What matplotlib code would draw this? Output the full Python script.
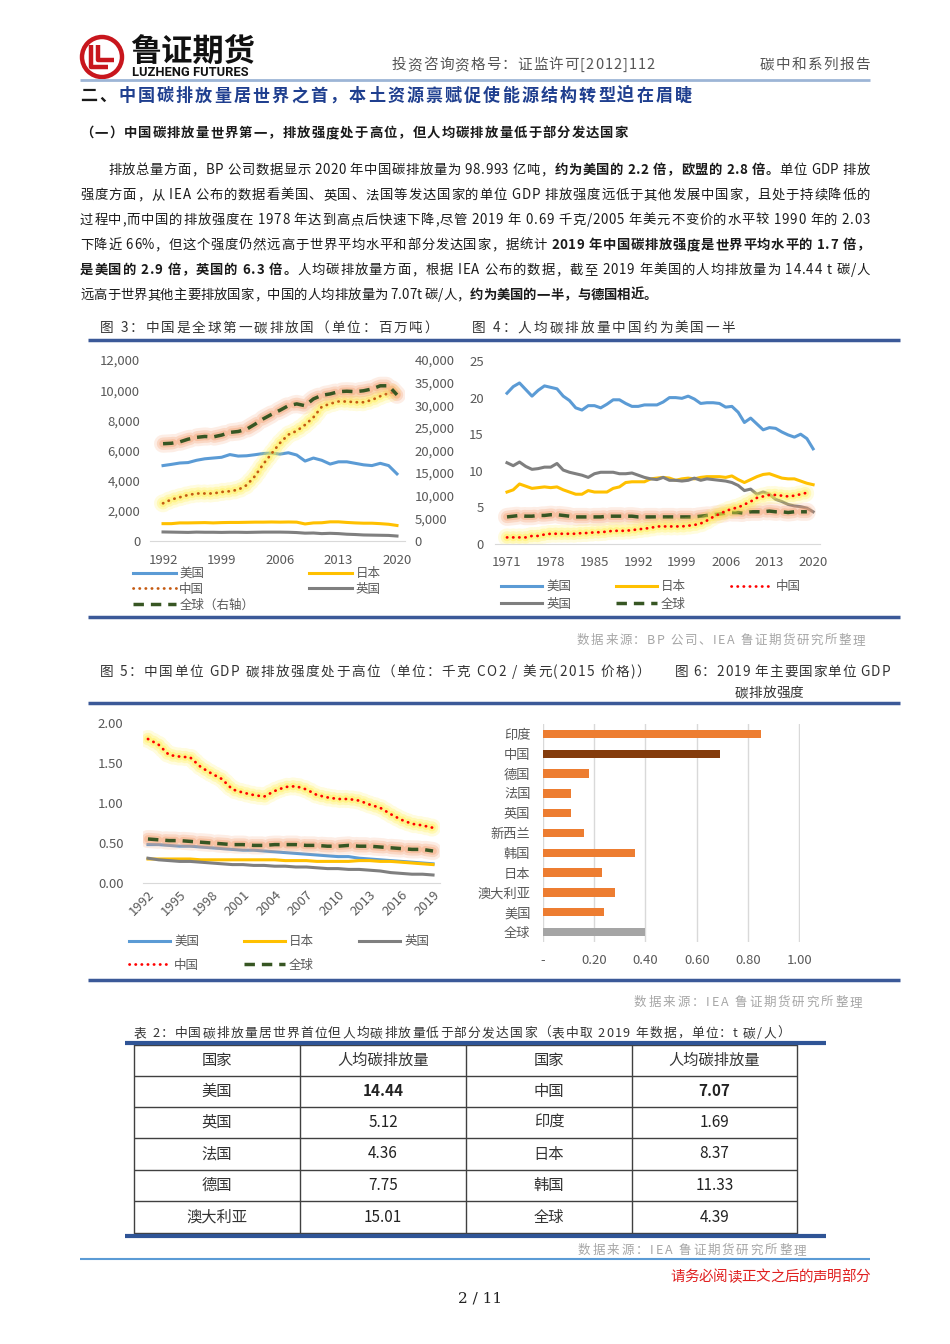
import matplotlib
matplotlib.use('Agg')
import matplotlib.pyplot as plt
import matplotlib.patheffects as pe
from matplotlib.font_manager import FontProperties
from matplotlib.lines import Line2D
from matplotlib.patches import Circle
from matplotlib.ticker import FuncFormatter

CJK = ['Noto Sans CJK SC', 'DejaVu Sans']
plt.rcParams['font.family'] = CJK
plt.rcParams['axes.unicode_minus'] = False

#%% 图3 碳排放量（百万吨），全球为右轴
years_co2 = list(range(1992, 2021))
co2_us = [5000, 5080, 5170, 5200, 5350, 5450, 5500, 5550, 5730, 5630, 5650, 5720, 5800, 5830,
          5760, 5850, 5700, 5300, 5500, 5350, 5100, 5250, 5250, 5150, 5050, 5000, 5150, 5000, 4450]
co2_china = [2500, 2750, 2900, 3050, 3150, 3150, 3150, 3250, 3300, 3400, 3700, 4300, 5100, 5800,
             6500, 7050, 7300, 7700, 8200, 8900, 9100, 9250, 9250, 9200, 9200, 9350, 9600, 9800, 9900]
co2_japan = [1150, 1150, 1200, 1200, 1210, 1220, 1200, 1220, 1230, 1230, 1240, 1250, 1250, 1260,
             1250, 1260, 1250, 1130, 1200, 1210, 1270, 1270, 1230, 1200, 1180, 1180, 1150, 1110, 1030]
co2_uk = [600, 590, 580, 570, 590, 580, 580, 570, 580, 580, 570, 580, 590, 590,
          590, 580, 560, 520, 530, 490, 510, 490, 450, 430, 400, 390, 380, 370, 330]
co2_world = [21500, 21600, 21900, 22500, 22900, 23100, 23000, 23400, 24000, 24200, 24700, 25800, 27000, 28000,
             28900, 29900, 30300, 29900, 31400, 32200, 32500, 33000, 33100, 33000, 33200, 33600, 34300, 34300, 32300]

#%% 图4 人均碳排放量（t）
years_pc = list(range(1971, 2021))
pc_us = [20.6, 21.5, 22.0, 21.1, 20.2, 21.0, 21.6, 21.4, 21.2, 20.2, 19.6, 18.6, 18.3, 18.9, 18.9, 18.6, 19.1,
         19.7, 19.7, 19.2, 18.8, 18.8, 19.0, 19.0, 19.0, 19.4, 20.0, 20.0, 19.9, 20.2, 19.8, 19.2, 19.3, 19.3,
         19.2, 18.7, 18.8, 18.0, 16.6, 17.2, 16.4, 15.6, 15.9, 15.8, 15.3, 14.9, 14.6, 15.0, 14.4, 13.0]
pc_uk = [11.1, 10.7, 11.2, 10.6, 10.2, 10.3, 10.5, 10.5, 11.0, 10.1, 9.8, 9.6, 9.4, 9.1, 9.6, 9.8, 9.8,
         9.8, 9.6, 9.6, 9.7, 9.4, 9.1, 8.9, 8.8, 9.1, 8.7, 8.7, 8.6, 8.7, 9.0, 8.7, 8.9, 8.8,
         8.7, 8.6, 8.4, 8.0, 7.3, 7.5, 6.8, 7.1, 6.8, 6.1, 5.8, 5.4, 5.2, 5.1, 4.9, 4.4]
pc_japan = [7.1, 7.4, 8.2, 7.9, 7.6, 7.7, 7.8, 7.7, 7.8, 7.4, 7.1, 6.8, 6.8, 7.3, 7.1, 7.1, 7.1,
            7.6, 7.8, 8.4, 8.5, 8.5, 8.5, 8.9, 9.0, 9.1, 9.0, 8.7, 8.9, 9.0, 8.9, 9.1, 9.2, 9.2,
            9.2, 9.1, 9.3, 8.8, 8.4, 8.8, 9.2, 9.5, 9.6, 9.3, 9.0, 8.9, 8.9, 8.6, 8.3, 8.1]
pc_china = [0.9, 0.9, 0.9, 0.9, 1.1, 1.1, 1.3, 1.4, 1.4, 1.4, 1.4, 1.4, 1.5, 1.5, 1.6, 1.6, 1.7,
            1.8, 1.8, 1.8, 1.9, 2.0, 2.1, 2.2, 2.4, 2.4, 2.4, 2.4, 2.4, 2.5, 2.6, 2.8, 3.2, 3.7,
            4.1, 4.5, 4.8, 5.0, 5.4, 5.8, 6.3, 6.5, 6.7, 6.7, 6.6, 6.5, 6.6, 6.8, 7.0, float('nan')]
pc_world = [3.7, 3.8, 3.9, 3.8, 3.8, 3.9, 3.9, 4.0, 4.0, 3.9, 3.8, 3.7, 3.7, 3.7, 3.7, 3.7, 3.8,
            3.8, 3.8, 3.8, 3.8, 3.7, 3.7, 3.7, 3.7, 3.7, 3.7, 3.7, 3.7, 3.7, 3.7, 3.8, 3.9, 4.0,
            4.1, 4.2, 4.3, 4.3, 4.2, 4.4, 4.4, 4.4, 4.5, 4.4, 4.4, 4.3, 4.4, 4.4, 4.4, float('nan')]

#%% 图5 单位GDP碳排放强度（千克CO2/美元）
years_int = list(range(1992, 2020))
int_china = [1.80, 1.73, 1.60, 1.58, 1.57, 1.45, 1.37, 1.30, 1.17, 1.13, 1.10, 1.08, 1.15, 1.20,
             1.21, 1.17, 1.10, 1.07, 1.05, 1.05, 1.03, 0.98, 0.94, 0.86, 0.79, 0.74, 0.72, 0.69]
int_world = [0.55, 0.54, 0.53, 0.53, 0.52, 0.51, 0.50, 0.49, 0.48, 0.48, 0.47, 0.47, 0.48, 0.48,
             0.48, 0.47, 0.47, 0.46, 0.46, 0.47, 0.46, 0.46, 0.45, 0.44, 0.43, 0.42, 0.42, 0.40]
int_us = [0.48, 0.48, 0.47, 0.46, 0.46, 0.45, 0.44, 0.43, 0.42, 0.41, 0.41, 0.40, 0.39, 0.38,
          0.37, 0.36, 0.35, 0.34, 0.33, 0.33, 0.31, 0.30, 0.29, 0.28, 0.27, 0.26, 0.25, 0.24]
int_japan = [0.30, 0.30, 0.30, 0.30, 0.30, 0.29, 0.29, 0.29, 0.29, 0.29, 0.29, 0.29, 0.29, 0.28,
             0.28, 0.28, 0.27, 0.27, 0.27, 0.27, 0.28, 0.28, 0.27, 0.27, 0.26, 0.25, 0.24, 0.23]
int_uk = [0.31, 0.29, 0.28, 0.27, 0.27, 0.26, 0.25, 0.24, 0.23, 0.23, 0.22, 0.22, 0.21, 0.21,
          0.20, 0.20, 0.19, 0.18, 0.18, 0.17, 0.17, 0.16, 0.15, 0.13, 0.12, 0.11, 0.11, 0.10]

#%% 图6 2019年主要国家单位GDP碳排放强度
countries_2019 = ['印度', '中国', '德国', '法国', '英国', '新西兰', '韩国', '日本', '澳大利亚', '美国', '全球']
intensity_2019 = [0.85, 0.69, 0.18, 0.11, 0.11, 0.16, 0.36, 0.23, 0.28, 0.24, 0.40]

#%% 表2 人均碳排放量
table_head = ['国家', '人均碳排放量', '国家', '人均碳排放量']
tbl_country_l = ['美国', '英国', '法国', '德国', '澳大利亚']
tbl_value_l = ['14.44', '5.12', '4.36', '7.75', '15.01']
tbl_country_r = ['中国', '印度', '日本', '韩国', '全球']
tbl_value_r = ['7.07', '1.69', '8.37', '11.33', '4.39']

#%% page
W, H = 950, 1344
fig = plt.figure(figsize=(W / 100, H / 100), dpi=100)
page = fig.add_axes([0, 0, 1, 1])
page.set_xlim(0, W)
page.set_ylim(H, 0)
page.axis('off')
renderer = fig.canvas.get_renderer()

C_US, C_JP, C_UK, C_WORLD = '#5B9BD5', '#FFC000', '#7F7F7F', '#375623'
C_CN3, C_CN = '#C55A11', '#FF0000'
TICK = '#595959'

_cache = {}


def adv(ch, fp):
    key = (ch, fp.get_weight(), fp.get_size())
    if key not in _cache:
        w1 = renderer.get_text_width_height_descent('中' + ch + '中', fp, ismath=False)[0]
        w0 = renderer.get_text_width_height_descent('中中', fp, ismath=False)[0]
        _cache[key] = w1 - w0
    return _cache[key]


def draw_line(segs, x0, y, x1=None, size=9.8, color='#1a1a1a'):
    chars = []
    for seg in segs:
        s, bold = seg[0], seg[1]
        c = seg[2] if len(seg) > 2 else color
        fp = FontProperties(family=CJK, size=size, weight='bold' if bold else 'normal')
        for ch in s:
            chars.append((ch, fp, c, adv(ch, fp)))
    total = sum(a for *_, a in chars)
    gap = 0 if x1 is None else (x1 - x0 - total) / (len(chars) - 1)
    x = x0
    for ch, fp, c, a in chars:
        if ch != ' ':
            page.text(x, y, ch, fontproperties=fp, color=c, va='baseline', ha='left')
        x += a + gap


def hline(y, x0, x1, color, lw):
    page.plot([x0, x1], [y, y], color=color, lw=lw, solid_capstyle='butt')


def add_ax(x0, y0, x1, y1):
    return fig.add_axes([x0 / W, 1 - y1 / H, (x1 - x0) / W, (y1 - y0) / H])


def style(ax):
    for s in ['top', 'right', 'left']:
        ax.spines[s].set_visible(False)
    ax.spines['bottom'].set_color('#D9D9D9')
    ax.tick_params(length=0, labelsize=9.5, colors=TICK)
    ax.set_facecolor('none')


def glow(c):
    return [pe.Stroke(linewidth=13, foreground=c, alpha=0.18, capstyle='round'),
            pe.Stroke(linewidth=9, foreground=c, alpha=0.28, capstyle='round'),
            pe.Stroke(linewidth=5.5, foreground=c, alpha=0.4, capstyle='round'),
            pe.Normal()]


DOT = (0, (0.1, 2.1))
DASH = (0, (3, 2))

# ---- header ----
red = '#C8161D'
page.add_patch(Circle((102, 57), 20, fill=False, ec=red, lw=3.2))
page.plot([91, 91, 108], [45, 67, 67], color=red, lw=3.2, solid_capstyle='butt')
page.plot([98, 98, 114], [45, 60, 60], color=red, lw=3.2, solid_capstyle='butt')
page.text(130, 52, '鲁证期货', fontsize=22.5, fontweight='bold', color='#111111', va='center', ha='left')
page.text(132, 72, 'LUZHENG FUTURES', fontsize=9.3, fontweight='bold', family='Roboto',
          color='#111111', va='center', ha='left')
draw_line([('投资咨询资格号：证监许可[2012]112', False)], 392, 69, 655, size=10.5, color='#555555')
draw_line([('碳中和系列报告', False)], 760, 69, 870, size=10.5, color='#555555')
hline(80, 80, 870, '#9DB5D6', 2)

draw_line([('二、', True, '#1a1a1a'),
           ('中国碳排放量居世界之首，本土资源禀赋促使能源结构转型迫在眉睫', True, '#1F3F8F')],
          80, 101, 692, size=12.3)
draw_line([('（一）中国碳排放量世界第一，排放强度处于高位，但人均碳排放量低于部分发达国家', True)],
          80, 137, 628, size=9.6)

body = [
    ([('排放总量方面，BP 公司数据显示 2020 年中国碳排放量为 98.993 亿吨，', False),
      ('约为美国的 2.2 倍，欧盟的 2.8 倍。', True), ('单位 GDP 排放', False)], 108, True),
    ([('强度方面，从 IEA 公布的数据看美国、英国、法国等发达国家的单位 GDP 排放强度远低于其他发展中国家，且处于持续降低的', False)], 80, True),
    ([('过程中,而中国的排放强度在 1978 年达到高点后快速下降,尽管 2019 年 0.69 千克/2005 年美元不变价的水平较 1990 年的 2.03', False)], 80, True),
    ([('下降近 66%，但这个强度仍然远高于世界平均水平和部分发达国家，据统计 ', False),
      ('2019 年中国碳排放强度是世界平均水平的 1.7 倍，', True)], 80, True),
    ([('是美国的 2.9 倍，英国的 6.3 倍。', True),
      ('人均碳排放量方面，根据 IEA 公布的数据，截至 2019 年美国的人均排放量为 14.44 t 碳/人', False)], 80, True),
    ([('远高于世界其他主要排放国家，中国的人均排放量为 7.07t 碳/人，', False),
      ('约为美国的一半，与德国相近。', True)], 80, False),
]
for i, (segs, x0, just) in enumerate(body):
    draw_line(segs, x0, 174 + 25 * i, 870 if just else None, size=9.6)

# ---- captions for 图3 / 图4 ----
CAP = '#333333'
draw_line([('图 3：中国是全球第一碳排放国（单位：百万吨）', False)], 100, 332, 438, size=9.8, color=CAP)
draw_line([('图 4：人均碳排放量中国约为美国一半', False)], 472, 332, 735, size=9.8, color=CAP)
hline(340, 88, 900, '#3B5998', 2.5)
hline(617, 88, 900, '#3B5998', 2.5)
draw_line([('数据来源：BP 公司、IEA 鲁证期货研究所整理', False)], 577, 644, 865, size=9, color='#A6A6A6')

# ---- 图3 ----
ax3 = add_ax(150, 360, 405, 541)
style(ax3)
ax3.plot(years_co2, co2_us, color=C_US, lw=2.2)
ax3.plot(years_co2, co2_japan, color=C_JP, lw=2.2)
ax3.plot(years_co2, co2_uk, color=C_UK, lw=2.2)
ax3.plot(years_co2, co2_china, color=C_CN3, lw=2, ls=DOT, dash_capstyle='round',
         path_effects=glow('#FFF04A'))
ax3.set_xlim(1990.44, 2020.96)
ax3.set_ylim(0, 12000)
ax3.set_yticks(range(0, 12001, 2000))
ax3.set_xticks([1992, 1999, 2006, 2013, 2020])
ax3.yaxis.set_major_formatter(FuncFormatter(lambda v, p: f'{v:,.0f}'))
ax3.tick_params(axis='y', pad=7)
ax3.tick_params(axis='x', pad=9)
ax3r = ax3.twinx()
for s in ax3r.spines.values():
    s.set_visible(False)
ax3r.tick_params(length=0, labelsize=9.5, colors=TICK, pad=7)
ax3r.plot(years_co2, co2_world, color=C_WORLD, lw=2.5, ls=DASH, path_effects=glow('#F4A070'))
ax3r.set_ylim(0, 40000)
ax3r.set_yticks(range(0, 40001, 5000))
ax3r.yaxis.set_major_formatter(FuncFormatter(lambda v, p: f'{v:,.0f}'))
h3 = [Line2D([], [], color=C_US, lw=2.2), Line2D([], [], color=C_CN3, lw=2, ls=DOT, dash_capstyle='round'),
      Line2D([], [], color=C_WORLD, lw=2.5, ls=DASH), Line2D([], [], color=C_JP, lw=2.2),
      Line2D([], [], color=C_UK, lw=2.2)]
ax3.legend(h3, ['美国', '中国', '全球（右轴）', '日本', '英国'], ncol=2, loc='upper left',
           bbox_to_anchor=(133 / W, 1 - 567 / H), bbox_transform=fig.transFigure, frameon=False,
           fontsize=9, handlelength=3.4, handletextpad=0.3, columnspacing=4.4, labelspacing=0.22,
           borderpad=0, borderaxespad=0, labelcolor=TICK)

# ---- 图4 ----
ax4 = add_ax(495, 361, 820, 544)
style(ax4)
ax4.plot(years_pc, pc_us, color=C_US, lw=2.2)
ax4.plot(years_pc, pc_japan, color=C_JP, lw=2.2)
ax4.plot(years_pc, pc_uk, color=C_UK, lw=2.2)
ax4.plot(years_pc, pc_world, color=C_WORLD, lw=2.5, ls=DASH, path_effects=glow('#F4A070'))
ax4.plot(years_pc, pc_china, color=C_CN, lw=2, ls=DOT, dash_capstyle='round', path_effects=glow('#FFF04A'))
ax4.set_xlim(1969.08, 2021.1)
ax4.set_ylim(0, 25)
ax4.set_yticks(range(0, 26, 5))
ax4.set_xticks(list(range(1971, 2021, 7)))
ax4.tick_params(axis='y', pad=8)
ax4.tick_params(axis='x', pad=9)
h4 = [Line2D([], [], color=C_US, lw=2.2), Line2D([], [], color=C_UK, lw=2.2),
      Line2D([], [], color=C_JP, lw=2.2), Line2D([], [], color=C_WORLD, lw=2.5, ls=DASH),
      Line2D([], [], color=C_CN, lw=2, ls=DOT, dash_capstyle='round')]
ax4.legend(h4, ['美国', '英国', '日本', '全球', '中国'], ncol=3, loc='upper left',
           bbox_to_anchor=(501 / W, 1 - 580 / H), bbox_transform=fig.transFigure, frameon=False,
           fontsize=9, handlelength=3.3, handletextpad=0.3, columnspacing=3.6, labelspacing=0.38,
           borderpad=0, borderaxespad=0, labelcolor=TICK)

# ---- captions for 图5 / 图6 ----
draw_line([('图 5：中国单位 GDP 碳排放强度处于高位（单位：千克 CO2 / 美元(2015 价格)）', False)],
          100, 676, 650, size=9.8, color=CAP)
draw_line([('图 6：2019 年主要国家单位 GDP', False)], 675, 676, 890, size=9.8, color=CAP)
draw_line([('碳排放强度', False)], 735, 697, None, size=9.8, color=CAP)
hline(703, 88, 900, '#3B5998', 2.5)
hline(980, 88, 900, '#3B5998', 2.5)
draw_line([('数据来源：IEA 鲁证期货研究所整理', False)], 634, 1006, 862, size=9, color='#A6A6A6')

# ---- 图5 ----
ax5 = add_ax(143, 723, 440, 883)
style(ax5)
ax5.plot(years_int, int_us, color=C_US, lw=2.2)
ax5.plot(years_int, int_japan, color=C_JP, lw=2.2)
ax5.plot(years_int, int_uk, color=C_UK, lw=2.2)
ax5.plot(years_int, int_world, color=C_WORLD, lw=2.5, ls=DASH, path_effects=glow('#F4A070'))
ax5.plot(years_int, int_china, color=C_CN, lw=2, ls=DOT, dash_capstyle='round', path_effects=glow('#FFF04A'))
ax5.set_xlim(1991.53, 2019.66)
ax5.set_ylim(0, 2)
ax5.set_yticks([0, 0.5, 1.0, 1.5, 2.0])
ax5.yaxis.set_major_formatter(FuncFormatter(lambda v, p: f'{v:.2f}'))
ax5.set_xticks(list(range(1992, 2020, 3)))
ax5.tick_params(axis='y', pad=14)
ax5.tick_params(axis='x', pad=4)
for lab in ax5.get_xticklabels():
    lab.set_rotation(45)
    lab.set_ha('right')
    lab.set_rotation_mode('anchor')
h5 = [Line2D([], [], color=C_US, lw=2.2), Line2D([], [], color=C_CN, lw=2, ls=DOT, dash_capstyle='round'),
      Line2D([], [], color=C_JP, lw=2.2), Line2D([], [], color=C_WORLD, lw=2.5, ls=DASH),
      Line2D([], [], color=C_UK, lw=2.2)]
ax5.legend(h5, ['美国', '中国', '日本', '全球', '英国'], ncol=3, loc='upper left',
           bbox_to_anchor=(129 / W, 1 - 935 / H), bbox_transform=fig.transFigure, frameon=False,
           fontsize=9, handlelength=3.3, handletextpad=0.3, columnspacing=3.6, labelspacing=0.85,
           borderpad=0, borderaxespad=0, labelcolor=TICK)

# ---- 图6 ----
ax6 = add_ax(543, 724, 800, 942)
for s in ax6.spines.values():
    s.set_visible(False)
ax6.set_facecolor('none')
bar_colors = ['#843C0C' if c == '中国' else '#A5A5A5' if c == '全球' else '#ED7D31' for c in countries_2019]
ax6.barh(range(len(countries_2019)), intensity_2019, height=0.42, color=bar_colors, zorder=3)
ax6.set_yticks(range(len(countries_2019)))
ax6.set_yticklabels(countries_2019)
ax6.set_ylim(len(countries_2019) - 0.5, -0.5)
ax6.set_xlim(0, 1.003)
ax6.set_xticks([0, 0.2, 0.4, 0.6, 0.8, 1.0])
ax6.xaxis.set_major_formatter(FuncFormatter(lambda v, p: '-' if v == 0 else f'{v:.2f}'))
ax6.grid(axis='x', color='#D9D9D9', lw=1)
ax6.tick_params(length=0, labelsize=9.5, colors=TICK)
ax6.tick_params(axis='y', pad=9)
ax6.tick_params(axis='x', pad=9)

# ---- 表2 ----
draw_line([('表 2：中国碳排放量居世界首位但人均碳排放量低于部分发达国家（表中取 2019 年数据，单位：t 碳/人）', False)],
          134, 1037, 790, size=9.2, color=CAP)
col_x = [134, 300, 466, 632, 797]
row_y = [1045, 1076, 1107, 1138, 1170, 1201, 1233]
for x in col_x:
    page.plot([x, x], [row_y[0], row_y[-1]], color='#404040', lw=1)
for y in row_y:
    hline(y, col_x[0], col_x[-1], '#404040', 1)
hline(1043, 125, 826, '#2F5496', 3)
hline(1236, 125, 826, '#2F5496', 3)
centers = [(col_x[i] + col_x[i + 1]) / 2 for i in range(4)]
for j, t in enumerate(table_head):
    page.text(centers[j], (row_y[0] + row_y[1]) / 2, t, fontsize=11, color='#333333', ha='center', va='center')
for i in range(len(tbl_country_l)):
    yc = (row_y[i + 1] + row_y[i + 2]) / 2
    bold = 'bold' if i == 0 else 'normal'
    page.text(centers[0], yc, tbl_country_l[i], fontsize=11, color='#333333', ha='center', va='center')
    page.text(centers[1], yc, tbl_value_l[i], fontsize=11, color='#222222', ha='center', va='center', fontweight=bold)
    page.text(centers[2], yc, tbl_country_r[i], fontsize=11, color='#333333', ha='center', va='center')
    page.text(centers[3], yc, tbl_value_r[i], fontsize=11, color='#222222', ha='center', va='center', fontweight=bold)
draw_line([('数据来源：IEA 鲁证期货研究所整理', False)], 578, 1254, 806, size=9, color='#A6A6A6')

# ---- footer ----
hline(1259, 80, 870, '#5B9BD5', 1.5)
draw_line([('请务必阅读正文之后的声明部分', False)], 670, 1281, 870, size=10.5, color='#E02020')
page.text(480, 1298, '2 / 11', fontsize=11, family='DejaVu Serif', color='#222222', ha='center', va='center')

fig.savefig('out.png', dpi=100)
